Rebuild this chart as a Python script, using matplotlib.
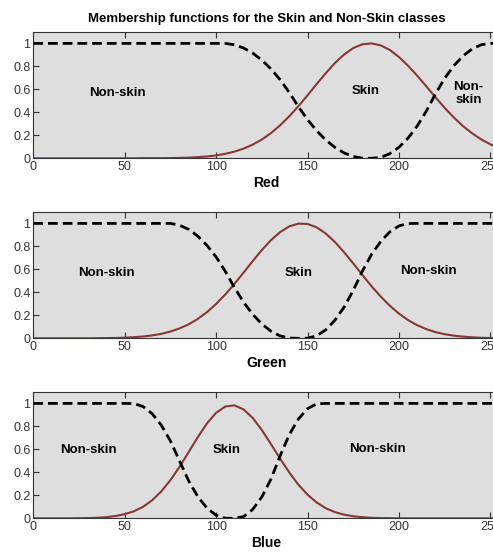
import matplotlib
matplotlib.use("Agg")
import matplotlib.pyplot as plt

plt.rcParams['font.family'] = ['Liberation Sans', 'DejaVu Sans']

# sample positions along the intensity axis (0..255, step 5)
xs = [0, 5, 10, 15, 20, 25, 30, 35, 40, 45, 50, 55, 60, 65, 70, 75, 80, 85, 90, 95,
      100, 105, 110, 115, 120, 125, 130, 135, 140, 145, 150, 155, 160, 165, 170, 175,
      180, 185, 190, 195, 200, 205, 210, 215, 220, 225, 230, 235, 240, 245, 250, 255]

# Red channel
red_skin = [0, 0, 0, 0, 0, 0, 0, 0, 0, 0, 0, 0,
            0.001, 0.001, 0.001, 0.002, 0.004, 0.006, 0.010, 0.016, 0.025,
            0.039, 0.058, 0.084, 0.119, 0.163, 0.219, 0.287, 0.365, 0.453, 0.548,
            0.646, 0.741, 0.829, 0.903, 0.959, 0.992, 1.0, 0.983, 0.943, 0.882,
            0.806, 0.719, 0.626, 0.531, 0.440, 0.356, 0.281, 0.218, 0.165, 0.122, 0.088]
red_nonskin = [1] * 21 + [1.0, 0.988, 0.960, 0.916, 0.855, 0.778, 0.684, 0.574, 0.450, 0.337,
                          0.240, 0.159, 0.095, 0.047, 0.016, 0.001, 0, 0.008, 0.040, 0.096,
                          0.176, 0.281, 0.411, 0.561, 0.695, 0.805, 0.890, 0.951, 0.988, 1, 1]

# Green channel
green_skin = [0] * 7 + [0.001, 0.002, 0.003, 0.006, 0.010, 0.016, 0.025, 0.039, 0.059, 0.086,
                        0.122, 0.169, 0.228, 0.299, 0.381, 0.473, 0.571, 0.671, 0.768, 0.854,
                        0.924, 0.974, 0.998, 0.995, 0.966, 0.912, 0.838, 0.749, 0.652, 0.552,
                        0.454, 0.364, 0.284, 0.215, 0.159, 0.114, 0.080, 0.054, 0.036, 0.023,
                        0.015, 0.009, 0.005, 0.003, 0.002]
green_nonskin = [1] * 15 + [1.0, 0.984, 0.948, 0.889, 0.809, 0.708, 0.584, 0.443, 0.315, 0.209,
                            0.125, 0.062, 0.021, 0.002, 0, 0.001, 0.022, 0.074, 0.158, 0.271,
                            0.416, 0.584, 0.729, 0.842, 0.926, 0.978, 0.999] + [1] * 10

# Blue channel
blue_skin = [0] * 4 + [0, 0.001, 0.002, 0.005, 0.010, 0.020, 0.036, 0.061, 0.100, 0.157,
                       0.234, 0.332, 0.448, 0.577, 0.706, 0.826, 0.918, 0.973, 0.983, 0.948,
                       0.874, 0.769, 0.646, 0.520, 0.400, 0.293, 0.206, 0.138, 0.088, 0.054,
                       0.032, 0.018, 0.010, 0.005, 0.002, 0.001] + [0] * 12
blue_nonskin = [1] * 11 + [0.999, 0.973, 0.911, 0.811, 0.674, 0.5, 0.326, 0.189, 0.089, 0.027,
                           0.001, 0, 0.015, 0.077, 0.185, 0.341, 0.543, 0.727, 0.864, 0.954,
                           0.996] + [1] * 20

channels = ['Red', 'Green', 'Blue']
skin_curves = [red_skin, green_skin, blue_skin]
nonskin_curves = [red_nonskin, green_nonskin, blue_nonskin]

# region labels: (text, x, y)
region_labels = [
    [('Non-skin', 46, 0.57), ('Skin', 182, 0.59), ('Non-\nskin', 238, 0.565)],
    [('Non-skin', 40, 0.57), ('Skin', 145, 0.57), ('Non-skin', 216, 0.585)],
    [('Non-skin', 30, 0.595), ('Skin', 106, 0.595), ('Non-skin', 188.5, 0.6)],
]

xticks = [0, 50, 100, 150, 200, 250]
yticks = [0, 0.2, 0.4, 0.6, 0.8, 1]
ytick_labels = ['0', '0.2', '0.4', '0.6', '0.8', '1']

fig = plt.figure(figsize=(4.93, 5.52), dpi=100)
bottoms = [0.7132, 0.3871, 0.0610]
skin_color = '#873737'

for i, ch in enumerate(channels):
    ax = fig.add_axes([0.0675, bottoms[i], 0.9456, 0.2290])
    ax.set_facecolor('#dedede')
    ax.plot(xs, skin_curves[i], color=skin_color, linewidth=1.5, zorder=3)
    ax.plot(xs, nonskin_curves[i], color='black', linewidth=2.0,
            linestyle=(0, (3.5, 1.8)), zorder=4)
    for txt, tx, ty in region_labels[i]:
        ax.text(tx, ty, txt, fontsize=9.5, fontweight='bold', ha='center', va='center',
                linespacing=1.05)
    ax.set_xlim(0, 255)
    ax.set_ylim(0, 1.1)
    ax.set_xticks(xticks)
    ax.set_yticks(yticks)
    ax.set_yticklabels(ytick_labels)
    ax.tick_params(direction='in', length=4, width=0.8, top=True, right=True,
                   labelsize=9, colors='#333333', pad=2)
    for s in ax.spines.values():
        s.set_linewidth(0.8)
        s.set_color('#333333')
    ax.set_xlabel(ch, fontsize=10, fontweight='bold', labelpad=2)
    if i == 0:
        ax.set_title('Membership functions for the Skin and Non-Skin classes',
                     fontsize=9.5, fontweight='bold', pad=7)

fig.savefig('out.png', dpi=100)
